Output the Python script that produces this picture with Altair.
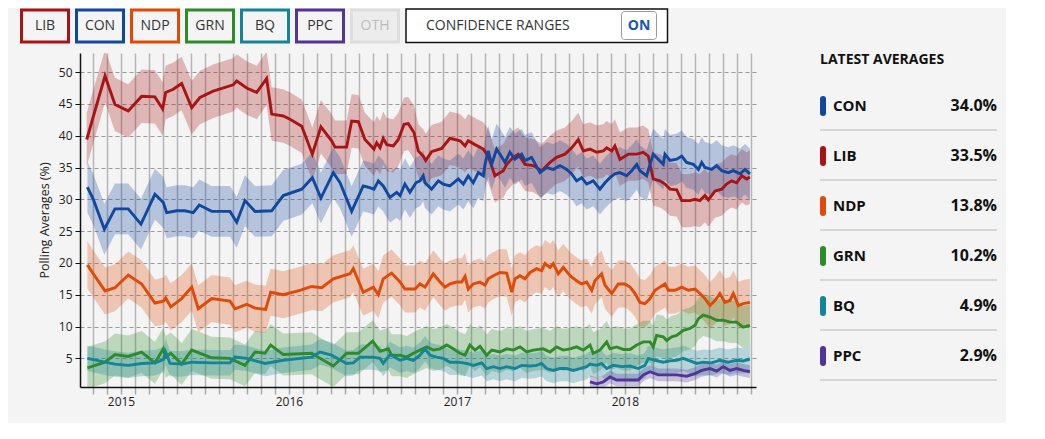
import altair as alt
import pandas as pd

PARTIES = ["LIB", "CON", "NDP", "GRN", "BQ", "PPC"]
BUTTONS = ["LIB", "CON", "NDP", "GRN", "BQ", "PPC", "OTH"]
COLORS = ["#A81414", "#11479E", "#E04A07", "#2E8B2A", "#138596", "#4E3596", "#DDDDDD"]

# dates as decimal years
LIB_T = [2014.796, 2014.905, 2014.964, 2015.043, 2015.123, 2015.202, 2015.248, 2015.266, 2015.311, 2015.361,
         2015.421, 2015.470, 2015.549, 2015.668, 2015.689, 2015.748, 2015.808, 2015.867, 2015.897, 2015.966,
         2016.006, 2016.076, 2016.139, 2016.190, 2016.254, 2016.274, 2016.343, 2016.373, 2016.413, 2016.452,
         2016.506, 2016.522, 2016.542, 2016.561, 2016.582, 2016.621, 2016.651, 2016.685, 2016.710, 2016.744,
         2016.770, 2016.799, 2016.814, 2016.849, 2016.909, 2016.958, 2017.018, 2017.048, 2017.067, 2017.107,
         2017.157, 2017.186, 2017.226, 2017.276, 2017.296, 2017.335, 2017.365, 2017.405, 2017.454, 2017.504,
         2017.554, 2017.593, 2017.643, 2017.683, 2017.722, 2017.752, 2017.792, 2017.832, 2017.871, 2017.891,
         2017.921, 2017.940, 2017.970, 2018.020, 2018.070, 2018.109, 2018.139, 2018.168, 2018.208, 2018.238,
         2018.268, 2018.308, 2018.338, 2018.387, 2018.417, 2018.446, 2018.476, 2018.496, 2018.536, 2018.576,
         2018.605, 2018.635, 2018.665, 2018.695, 2018.724, 2018.744]
LIB_V = [39.4, 49.4, 44.9, 43.9, 46.2, 46.1, 44.2, 46.8, 47.3, 48.2,
         44.4, 46.0, 47.0, 48.0, 48.6, 47.5, 46.8, 49.0, 43.4, 43.1,
         42.6, 41.5, 37.1, 41.4, 39.2, 38.2, 38.2, 42.3, 42.2, 39.4,
         37.9, 38.9, 38.1, 39.6, 38.6, 38.4, 39.4, 41.8, 41.9, 40.5,
         37.6, 36.8, 36.1, 37.5, 38.0, 39.6, 39.2, 38.4, 39.2, 38.6,
         37.9, 36.8, 33.7, 34.5, 35.5, 36.6, 37.1, 35.5, 35.3, 34.5,
         35.8, 36.6, 37.1, 38.1, 39.4, 37.6, 37.9, 37.4, 37.6, 38.1,
         37.6, 38.4, 36.3, 37.1, 37.1, 37.4, 36.8, 33.2, 32.9, 32.4,
         31.6, 31.5, 29.8, 29.8, 30.0, 29.8, 30.6, 29.9, 31.3, 31.6,
         32.4, 32.9, 32.6, 33.7, 33.2, 33.5]

CON_T = [2014.800, 2014.835, 2014.901, 2014.964, 2015.043, 2015.119, 2015.202, 2015.252, 2015.272, 2015.332,
         2015.381, 2015.430, 2015.466, 2015.540, 2015.649, 2015.689, 2015.738, 2015.798, 2015.897, 2015.966,
         2016.076, 2016.139, 2016.190, 2016.264, 2016.304, 2016.373, 2016.442, 2016.472, 2016.506, 2016.532,
         2016.561, 2016.601, 2016.641, 2016.661, 2016.690, 2016.720, 2016.756, 2016.780, 2016.799, 2016.810,
         2016.849, 2016.889, 2016.918, 2016.958, 2017.008, 2017.038, 2017.067, 2017.097, 2017.127, 2017.157,
         2017.167, 2017.186, 2017.207, 2017.236, 2017.256, 2017.286, 2017.315, 2017.345, 2017.385, 2017.405,
         2017.444, 2017.494, 2017.534, 2017.573, 2017.613, 2017.653, 2017.683, 2017.712, 2017.742, 2017.772,
         2017.811, 2017.851, 2017.881, 2017.911, 2017.940, 2017.970, 2018.010, 2018.040, 2018.070, 2018.089,
         2018.129, 2018.149, 2018.168, 2018.198, 2018.228, 2018.238, 2018.268, 2018.308, 2018.338, 2018.367,
         2018.407, 2018.437, 2018.457, 2018.476, 2018.516, 2018.546, 2018.576, 2018.615, 2018.645, 2018.685,
         2018.714, 2018.744]
CON_V = [31.9, 30.0, 25.3, 28.5, 28.5, 26.1, 30.8, 29.5, 27.9, 28.2,
         28.2, 27.9, 29.1, 28.1, 28.1, 26.4, 29.8, 28.1, 28.2, 30.6,
         31.6, 33.4, 30.2, 34.2, 32.6, 28.1, 32.1, 31.9, 31.6, 32.9,
         32.1, 30.3, 31.1, 30.6, 32.4, 31.1, 32.6, 32.9, 33.7, 32.6,
         31.6, 32.9, 32.4, 32.1, 33.2, 32.4, 33.7, 32.6, 34.2, 33.7,
         35.5, 37.6, 35.5, 37.9, 37.1, 35.8, 37.4, 36.3, 37.1, 36.1,
         36.6, 34.2, 35.0, 34.7, 35.3, 34.7, 34.0, 32.9, 33.4, 32.4,
         32.9, 31.6, 32.6, 33.4, 34.0, 34.2, 33.7, 34.5, 35.5, 34.5,
         33.7, 35.5, 37.1, 36.3, 35.5, 37.1, 36.1, 36.3, 36.8, 35.8,
         35.5, 34.7, 35.8, 35.0, 34.7, 35.3, 34.5, 34.2, 34.5, 34.0,
         34.7, 34.0]

NDP_T = [2014.800, 2014.835, 2014.905, 2014.964, 2015.043, 2015.123, 2015.202, 2015.252, 2015.266, 2015.296,
         2015.361, 2015.421, 2015.460, 2015.540, 2015.649, 2015.679, 2015.748, 2015.798, 2015.861, 2015.891,
         2015.966, 2016.065, 2016.135, 2016.195, 2016.264, 2016.363, 2016.383, 2016.442, 2016.502, 2016.532,
         2016.561, 2016.611, 2016.661, 2016.690, 2016.750, 2016.780, 2016.810, 2016.829, 2016.859, 2016.899,
         2016.929, 2016.958, 2016.998, 2017.028, 2017.048, 2017.067, 2017.097, 2017.137, 2017.167, 2017.186,
         2017.216, 2017.256, 2017.296, 2017.326, 2017.345, 2017.375, 2017.405, 2017.435, 2017.474, 2017.504,
         2017.524, 2017.554, 2017.573, 2017.603, 2017.633, 2017.673, 2017.712, 2017.742, 2017.772, 2017.802,
         2017.821, 2017.861, 2017.881, 2017.921, 2017.960, 2018.000, 2018.030, 2018.060, 2018.089, 2018.119,
         2018.149, 2018.179, 2018.208, 2018.238, 2018.258, 2018.298, 2018.338, 2018.377, 2018.417, 2018.446,
         2018.476, 2018.506, 2018.536, 2018.565, 2018.595, 2018.625, 2018.645, 2018.675, 2018.704, 2018.744]
NDP_V = [19.7, 18.3, 15.6, 16.1, 18.1, 16.7, 13.7, 14.0, 14.5, 13.1,
         14.4, 16.2, 12.8, 14.4, 14.0, 12.8, 13.5, 12.9, 12.7, 15.4,
         15.0, 15.7, 16.3, 16.1, 17.5, 18.3, 19.1, 15.4, 16.2, 15.0,
         17.5, 18.4, 17.0, 15.9, 15.9, 16.7, 16.2, 17.0, 18.3, 17.0,
         16.2, 16.7, 17.0, 17.0, 17.9, 15.9, 16.7, 17.0, 16.5, 17.5,
         18.0, 18.5, 18.4, 15.4, 17.5, 18.0, 17.5, 18.5, 19.1, 18.8,
         19.9, 19.3, 19.9, 18.3, 19.3, 18.0, 17.2, 16.7, 17.0, 15.7,
         17.2, 18.3, 16.5, 15.2, 16.7, 16.7, 16.2, 15.2, 13.8, 13.6,
         14.4, 15.7, 16.2, 16.7, 15.7, 15.7, 16.2, 15.7, 15.9, 15.2,
         14.4, 13.3, 14.1, 15.2, 13.8, 14.1, 15.2, 13.3, 13.6, 13.8]

GRN_T = [2014.800, 2014.905, 2014.964, 2015.043, 2015.123, 2015.202, 2015.252, 2015.266, 2015.296, 2015.361,
         2015.421, 2015.540, 2015.649, 2015.738, 2015.798, 2015.857, 2015.891, 2015.966, 2016.135, 2016.185,
         2016.264, 2016.343, 2016.413, 2016.498, 2016.542, 2016.591, 2016.611, 2016.661, 2016.701, 2016.740,
         2016.780, 2016.820, 2016.859, 2016.899, 2016.939, 2016.978, 2017.018, 2017.048, 2017.077, 2017.107,
         2017.137, 2017.177, 2017.207, 2017.256, 2017.296, 2017.335, 2017.375, 2017.415, 2017.454, 2017.514,
         2017.554, 2017.593, 2017.633, 2017.673, 2017.712, 2017.752, 2017.792, 2017.811, 2017.851, 2017.891,
         2017.911, 2017.950, 2017.990, 2018.030, 2018.070, 2018.109, 2018.149, 2018.168, 2018.188, 2018.228,
         2018.248, 2018.278, 2018.308, 2018.347, 2018.387, 2018.417, 2018.436, 2018.466, 2018.506, 2018.546,
         2018.585, 2018.625, 2018.665, 2018.704, 2018.744]
GRN_V = [3.5, 4.4, 5.6, 5.3, 6.0, 4.3, 6.5, 5.2, 5.8, 4.1,
         6.3, 5.1, 5.0, 3.9, 6.0, 5.8, 7.1, 5.6, 5.8, 5.0,
         3.8, 5.8, 5.8, 7.7, 6.1, 6.5, 5.5, 5.5, 5.2, 5.8,
         6.3, 6.8, 6.3, 6.5, 7.1, 6.5, 5.8, 5.5, 7.1, 6.3,
         6.9, 5.5, 6.3, 6.0, 6.5, 6.3, 6.8, 6.0, 6.3, 6.5,
         6.0, 6.8, 6.3, 6.5, 6.8, 6.3, 7.1, 5.8, 6.3, 7.6,
         6.5, 6.8, 6.4, 6.4, 7.1, 7.6, 7.6, 6.8, 8.6, 8.4,
         7.8, 8.4, 8.6, 9.4, 9.7, 10.2, 11.2, 11.8, 11.5, 11.0,
         11.0, 10.7, 10.7, 9.9, 10.2]

BQ_T = [2014.800, 2014.905, 2014.964, 2015.043, 2015.123, 2015.202, 2015.252, 2015.266, 2015.292, 2015.361,
        2015.421, 2015.540, 2015.649, 2015.679, 2015.748, 2015.857, 2015.966, 2016.135, 2016.185, 2016.254,
        2016.343, 2016.383, 2016.423, 2016.498, 2016.542, 2016.561, 2016.601, 2016.661, 2016.701, 2016.740,
        2016.780, 2016.810, 2016.839, 2016.879, 2016.918, 2016.958, 2017.008, 2017.058, 2017.097, 2017.147,
        2017.177, 2017.216, 2017.256, 2017.296, 2017.345, 2017.385, 2017.435, 2017.474, 2017.504, 2017.534,
        2017.573, 2017.613, 2017.653, 2017.692, 2017.732, 2017.772, 2017.792, 2017.832, 2017.861, 2017.891,
        2017.930, 2017.980, 2018.030, 2018.079, 2018.119, 2018.139, 2018.179, 2018.228, 2018.268, 2018.308,
        2018.347, 2018.387, 2018.427, 2018.466, 2018.516, 2018.565, 2018.615, 2018.665, 2018.704, 2018.744]
BQ_V = [5.0, 4.4, 4.1, 3.9, 4.2, 4.3, 4.8, 6.0, 4.2, 4.1,
        4.4, 4.3, 4.3, 5.2, 5.0, 4.2, 4.7, 5.2, 6.0, 5.5,
        4.2, 4.3, 5.2, 5.2, 5.0, 4.2, 5.6, 4.7, 5.0, 4.7,
        5.5, 6.5, 5.5, 5.2, 5.0, 4.4, 4.4, 4.2, 3.9, 4.3,
        3.4, 3.7, 3.4, 3.7, 3.4, 3.9, 3.8, 3.9, 4.2, 3.4,
        3.1, 3.4, 3.4, 3.1, 3.4, 3.7, 4.1, 3.9, 4.2, 3.4,
        3.9, 3.7, 3.8, 3.4, 3.9, 5.0, 4.7, 4.4, 4.6, 4.7,
        5.0, 4.6, 4.2, 4.4, 4.3, 4.7, 4.4, 4.7, 4.6, 4.9]

PPC_T = [2017.792, 2017.832, 2017.871, 2017.911, 2017.950, 2018.010, 2018.079, 2018.109, 2018.149, 2018.198,
         2018.248, 2018.308, 2018.367, 2018.417, 2018.457, 2018.506, 2018.546, 2018.585, 2018.625, 2018.665,
         2018.704, 2018.744]
PPC_V = [1.3, 1.0, 1.3, 2.1, 1.6, 1.6, 1.6, 2.4, 2.9, 2.4,
         2.4, 2.4, 2.2, 2.6, 3.1, 3.4, 3.0, 3.7, 3.1, 3.4,
         3.1, 2.9]

# half-width of the confidence range per party (percentage points)
BAND = {"LIB": 4.2, "CON": 4.0, "NDP": 3.7, "GRN": 3.3, "BQ": 2.0, "PPC": 1.0}

Y_TICKS = [5, 10, 15, 20, 25, 30, 35, 40, 45, 50]
MONTH_TICKS = [2014 + m / 12 for m in range(10, 58)]
HEADER = "LATEST AVERAGES"
TOGGLE = ["CONFIDENCE RANGES", "ON"]
Y_TITLE = "Polling Averages (%)"

SERIES = [("LIB", LIB_T, LIB_V), ("CON", CON_T, CON_V), ("NDP", NDP_T, NDP_V),
          ("GRN", GRN_T, GRN_V), ("BQ", BQ_T, BQ_V), ("PPC", PPC_T, PPC_V)]

rows = []
for p, ts, vs in SERIES:
    if len(ts) != len(vs):
        raise ValueError(f"length mismatch {p}: {len(ts)} vs {len(vs)}")
    for t, v in zip(ts, vs):
        rows.append({"party": p, "t": t, "v": v, "lo": v - BAND[p], "hi": v + BAND[p]})
df = pd.DataFrame(rows)

FONT = "Open Sans"
color_scale = alt.Scale(domain=BUTTONS, range=COLORS)

x_enc = alt.X("t:Q", scale=alt.Scale(domain=[2014.756, 2018.78], nice=False, zero=False),
              axis=alt.Axis(values=MONTH_TICKS, title=None,
                            labelExpr="abs(datum.value - round(datum.value)) < 0.001 ? format(round(datum.value), 'd') : ''",
                            grid=True, gridColor="#b5b5b5", gridWidth=1.5,
                            domainColor="#111111", domainWidth=1.5,
                            tickColor="#aaaaaa", tickSize=7, tickWidth=1.5,
                            labelFont=FONT, labelFontSize=12, labelColor="#222222",
                            labelPadding=2, labelOverlap=False, labelFlush=False, labelBound=False))
y_scale = alt.Scale(domain=[0.5, 53], nice=False, zero=False)
y_axis = alt.Axis(values=Y_TICKS, title=Y_TITLE, grid=True, gridDash=[4, 3], gridColor="#999999",
                  gridWidth=1, domainColor="#111111", domainWidth=1.5, tickColor="#111111",
                  tickSize=5, tickWidth=1, labelFont=FONT, labelFontSize=12, labelColor="#222222",
                  labelPadding=3, titleFont=FONT, titleFontSize=12.5, titleFontWeight="normal",
                  titleColor="#222222", titlePadding=7)

bands = alt.Chart(df).mark_area(opacity=0.28, clip=True, interpolate="linear").encode(
    x=x_enc,
    y=alt.Y("lo:Q", scale=y_scale, axis=y_axis),
    y2="hi:Q",
    color=alt.Color("party:N", scale=color_scale, legend=None),
)
lines = alt.Chart(df).mark_line(strokeWidth=2.9, clip=True).encode(
    x=x_enc,
    y=alt.Y("v:Q", scale=y_scale, axis=y_axis),
    color=alt.Color("party:N", scale=color_scale, legend=None),
)
main = alt.layer(bands, lines)

# top row of party buttons
btn_df = pd.DataFrame({"party": BUTTONS})
btn_x = alt.X("party:N", sort=BUTTONS, axis=None,
              scale=alt.Scale(range=[-58.5, 318.5], paddingInner=8 / 55, paddingOuter=0))
btn_rect = alt.Chart(btn_df).mark_rect(strokeWidth=3).encode(
    x=btn_x, y=alt.value(-43), y2=alt.value(-11),
    fill=alt.condition(alt.datum.party == "OTH", alt.value("#ececec"), alt.value("#f4f4f4")),
    stroke=alt.Stroke("party:N", scale=color_scale, legend=None),
)
btn_text = alt.Chart(btn_df).mark_text(font=FONT, fontSize=14, baseline="middle").encode(
    x=btn_x, y=alt.value(-27), text="party:N",
    color=alt.condition(alt.datum.party == "OTH", alt.value("#bbbbbb"), alt.value("#333333")),
)
buttons = alt.layer(btn_rect, btn_text)

one = pd.DataFrame({"label": [TOGGLE[0]], "on": [TOGGLE[1]]})
conf_box = alt.Chart(one).mark_rect(fill="white", stroke="#111111", strokeWidth=1.5).encode(
    x=alt.value(326), x2=alt.value(587.5), y=alt.value(-44), y2=alt.value(-10.5))
conf_text = alt.Chart(one).mark_text(font=FONT, fontSize=14, align="left", baseline="middle",
                                     color="#333333").encode(
    x=alt.value(346), y=alt.value(-27), text="label:N")
on_box = alt.Chart(one).mark_rect(fill="white", stroke="#999999", strokeWidth=1, cornerRadius=3).encode(
    x=alt.value(541.5), x2=alt.value(576.5), y=alt.value(-41.5), y2=alt.value(-13.5))
on_text = alt.Chart(one).mark_text(font=FONT, fontSize=14, fontWeight="bold", align="center",
                                   baseline="middle", color="#1755B5").encode(
    x=alt.value(559), y=alt.value(-27), text="on:N")
conf = alt.layer(conf_box, conf_text, on_box, on_text)

# right panel: latest averages
latest = [vs[-1] for _, _, vs in SERIES]
panel_df = pd.DataFrame({"party": PARTIES, "latest": latest})
panel_df["rank"] = panel_df["latest"].rank(ascending=False, method="first") - 1
panel_df["label"] = panel_df["latest"].map(lambda v: f"{v:.1f}%")
ry = alt.Y("rank:Q", scale=alt.Scale(domain=[0, 5], range=[53, 303]), axis=None)

header = alt.Chart(pd.DataFrame({"h": [HEADER]})).mark_text(
    font=FONT, fontSize=14, fontWeight="bold", align="left", baseline="middle", color="#111111"
).encode(x=alt.value(740), y=alt.value(7), text="h:N")
seps = alt.Chart(panel_df).mark_rule(color="#cccccc", strokeWidth=1.5, yOffset=24).encode(
    x=alt.value(740), x2=alt.value(917), y=ry)
pills = alt.Chart(panel_df).mark_rule(strokeWidth=6, strokeCap="round", yOffset=-7, y2Offset=7).encode(
    x=alt.value(743), y=ry, y2=alt.Y2("rank:Q"),
    color=alt.Color("party:N", scale=color_scale, legend=None))
names = alt.Chart(panel_df).mark_text(font=FONT, fontSize=15, fontWeight="bold", align="left",
                                      baseline="middle", color="#111111").encode(
    x=alt.value(753), y=ry, text="party:N")
values = alt.Chart(panel_df).mark_text(font=FONT, fontSize=16, fontWeight="bold", align="right",
                                       baseline="middle", color="#111111").encode(
    x=alt.value(917), y=ry, text="label:N")
panel = alt.layer(seps, pills, names, values, header)

chart = alt.layer(main, buttons, conf, panel).resolve_scale(
    x="independent", y="independent"
).properties(
    width=676, height=334,
    autosize=alt.AutoSizeParams(type="none"),
    padding={"left": 72, "top": 45, "right": 250, "bottom": 36},
).configure(
    background="#f4f4f4", font=FONT
).configure_view(stroke=None)

chart.save("out.html", embed_options={"renderer": "svg", "actions": False})
